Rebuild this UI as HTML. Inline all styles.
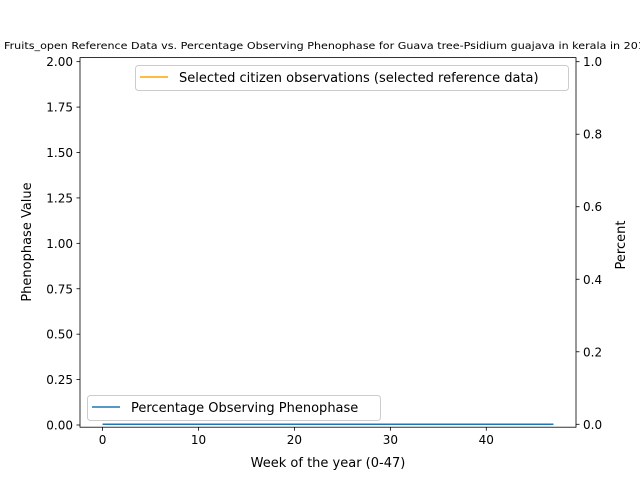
<!DOCTYPE html>
<html><head><meta charset="utf-8"><style>
html,body{margin:0;padding:0;background:#fff;overflow:hidden;}
svg{display:block;font-family:"DejaVu Sans","Liberation Sans",sans-serif;}
</style></head><body>
<svg id="chart" width="640" height="480" viewBox="0 0 640 480">
<rect x="0" y="0" width="640" height="480" fill="#fff"/>
<text x="4" y="49" font-size="9.5" textLength="648" lengthAdjust="spacingAndGlyphs">Fruits_open Reference Data vs. Percentage Observing Phenophase for Guava tree-Psidium guajava in kerala in 2017</text>
<g id="plot"></g>
<rect x="80" y="57.6" width="496" height="369.6" fill="none" stroke="#000" stroke-width="0.8"/>
<text x="328" y="467" font-size="13" text-anchor="middle">Week of the year (0-47)</text>
<text transform="translate(31,242) rotate(-90)" font-size="13" text-anchor="middle">Phenophase Value</text>
<text transform="translate(625,245) rotate(-90)" font-size="13" text-anchor="middle">Percent</text>
<g>
<rect x="135.5" y="65.5" width="433" height="25" rx="3" fill="#fff" fill-opacity="0.8" stroke="#ccc"/>
<line x1="140" y1="77" x2="168" y2="77" stroke="orange" stroke-width="1.5"/>
<text x="179" y="82" font-size="13">Selected citizen observations (selected reference data)</text>
</g>
<g>
<rect x="87.5" y="395.5" width="293" height="25" rx="3" fill="#fff" fill-opacity="0.8" stroke="#ccc"/>
<line x1="92" y1="407" x2="120" y2="407" stroke="#1f77b4" stroke-width="1.5"/>
<text x="131" y="412" font-size="13">Percentage Observing Phenophase</text>
</g>
</svg>
<script>
const weeks = Array.from({length:48},(_,i)=>i);
const percentValues = [0,0,0,0,0,0,0,0,0,0,0,0,0,0,0,0,0,0,0,0,0,0,0,0,0,0,0,0,0,0,0,0,0,0,0,0,0,0,0,0,0,0,0,0,0,0,0,0];
const phenoValues = [];
const xTicks = [0,10,20,30,40];
const leftTicks = ["0.00","0.25","0.50","0.75","1.00","1.25","1.50","1.75","2.00"];
const rightTicks = ["0.0","0.2","0.4","0.6","0.8","1.0"];

const L=80,R=576,T=57.6,B=427.2;
const xs=v=>L+(v-(-2.35))/(49.35-(-2.35))*(R-L);
const yl=v=>B-(v-(-0.0121))/(2.0224+0.0121)*(B-T);
const yr=v=>B-(v-(-0.008))/(1.0113+0.008)*(B-T);
const NS="http://www.w3.org/2000/svg";
const g=document.getElementById('plot');
function mk(t,a){const e=document.createElementNS(NS,t);for(const k in a)e.setAttribute(k,a[k]);g.appendChild(e);return e;}
xTicks.forEach(v=>{
  const x=xs(v);
  const l=mk('line',{x1:x,x2:x,y1:B,y2:B+3.5,stroke:'#000','stroke-width':0.8});
  
  
  const t=mk('text',{x:x,y:B+17,'font-size':12,'text-anchor':'middle'});t.textContent=v;
  
  
});
leftTicks.forEach(s=>{
  const y=yl(parseFloat(s));
  const l=mk('line',{x1:L-3.5,x2:L,y1:y,y2:y,stroke:'#000','stroke-width':0.8});
  
  
  const t=mk('text',{x:L-7,y:y+4.5,'font-size':12,'text-anchor':'end'});t.textContent=s;
  
  
});
rightTicks.forEach(s=>{
  const y=yr(parseFloat(s));
  const l=mk('line',{x1:R,x2:R+3.5,y1:y,y2:y,stroke:'#000','stroke-width':0.8});
  
  
  const t=mk('text',{x:R+7,y:y+4.5,'font-size':12,'text-anchor':'start'});t.textContent=s;
  
  
});
const p=mk('polyline',{points:weeks.map((w,i)=>xs(w)+','+yr(percentValues[i])).join(' '),fill:'none',stroke:'#1f77b4','stroke-width':1.5});


if(phenoValues.length){
  const o=mk('polyline',{points:phenoValues.map((v,i)=>xs(weeks[i])+','+yl(v)).join(' '),fill:'none',stroke:'orange','stroke-width':1.5});
  
  
}
</script>
</body></html>
